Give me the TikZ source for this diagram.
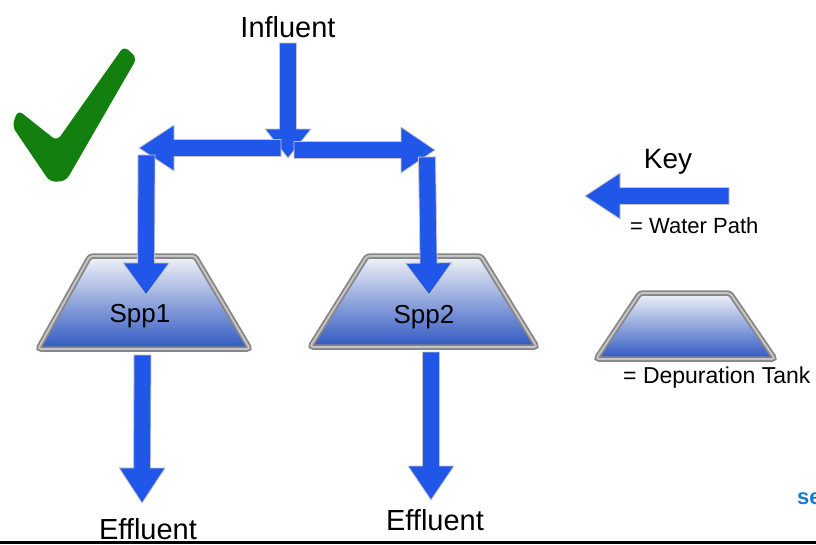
\documentclass[tikz,border=0pt]{standalone}
\usepackage{fontspec}
\setmainfont{Liberation Sans}
\usepackage{tikz}
\usetikzlibrary{calc}

\definecolor{waterblue}{HTML}{2157E8}
\definecolor{tickgreen}{HTML}{137F0E}
\definecolor{tanktop}{HTML}{F2F3F7}
\definecolor{tankmid}{HTML}{8FA2D6}
\definecolor{tankbot}{HTML}{2F57C2}
\definecolor{rimdark}{HTML}{858585}
\definecolor{rimlight}{HTML}{C4C4C4}
\definecolor{logoblue}{HTML}{1B78D2}

\tikzset{
  water/.style={fill=waterblue,draw=gray!45,line width=0.8pt,line join=miter},
  tankfill/.style={top color=tanktop,middle color=tankmid,bottom color=tankbot,rounded corners=3pt},
  tankrim/.style={draw=rimdark,line width=5.5pt,rounded corners=3pt},
  tankshine/.style={draw=rimlight,line width=2pt,rounded corners=3pt},
  lbl/.style={inner sep=0pt,anchor=base,font=\fontsize{29}{34}\selectfont},
  keylbl/.style={inner sep=0pt,anchor=base west},
}

\begin{document}
\begin{tikzpicture}[x=1pt,y=-1pt]
\useasboundingbox (0,0) rectangle (816,544);

% fat arrow: [head length]{from}{to}
\newcommand{\waterarrow}[3][33]{%
  \path ($(#3)!#1pt!(#2)$) coordinate (hb);
  \filldraw[water] ($(#2)!8.5pt!90:(#3)$) -- ($(hb)!8.5pt!90:(#3)$) -- ($(hb)!23pt!90:(#3)$)
    -- (#3) -- ($(hb)!23pt!-90:(#3)$) -- ($(hb)!8.5pt!-90:(#3)$) -- ($(#2)!8.5pt!-90:(#3)$) -- cycle;}
% tank: bottom left, bottom right, top right, top left
\newcommand{\deptank}[4]{%
  \shade[tankfill] #1 -- #2 -- #3 -- #4 -- cycle;
  \draw[tankrim] #1 -- #2 -- #3 -- #4 -- cycle;
  \draw[tankshine] #1 -- #2 -- #3 -- #4 -- cycle;}

% tick
\fill[tickgreen,rounded corners=6pt] (18,110) -- (57,141) -- (124,46) -- (137,58) -- (66,181) -- (50,182) -- (12,126) -- cycle;

\coordinate (intop) at (288,43);
\coordinate (split) at (288,158);
\coordinate (lstart) at (281,148);
\coordinate (lend) at (139,148);
\coordinate (rstart) at (294,150);
\coordinate (rend) at (435,150);
\coordinate (t1top) at (146.5,155);
\coordinate (t1in) at (146,295);
\coordinate (t2top) at (427,157);
\coordinate (t2in) at (429,295);
\coordinate (t1out) at (142.5,355);
\coordinate (eff1end) at (142,503);
\coordinate (t2out) at (431,352);
\coordinate (eff2end) at (431,500);
\coordinate (keytail) at (729,196);
\coordinate (keytip) at (585,196);

\deptank{(38,349)}{(250,349)}{(195,256)}{(90,256)}
\deptank{(310,347)}{(537,347)}{(481,256)}{(367,256)}
\deptank{(596,359)}{(775,359)}{(730,293)}{(640,293)}

\waterarrow[29]{intop}{split}
\waterarrow[35]{lstart}{lend}
\waterarrow[34]{rstart}{rend}
\waterarrow[32]{t1top}{t1in}
\waterarrow[32]{t2top}{t2in}
\waterarrow[35]{t1out}{eff1end}
\waterarrow[34]{t2out}{eff2end}
\waterarrow[35]{keytail}{keytip}

\node[lbl] (influent) at (288,37) {Influent};
\node[lbl,font=\fontsize{26}{30}\selectfont] (spp1) at (140,322) {Spp1};
\node[lbl,font=\fontsize{26}{30}\selectfont] (spp2) at (424,323) {Spp2};
\node[lbl] (eff1) at (148,539) {Effluent};
\node[lbl] (eff2) at (435,530) {Effluent};
\node[lbl,font=\fontsize{28}{33}\selectfont] (key) at (668,168) {Key};
\node[keylbl,font=\fontsize{22}{26}\selectfont] (waterpath) at (630,233) {= Water Path};
\node[keylbl,font=\fontsize{23}{27}\selectfont] (tanklbl) at (623,383) {= Depuration Tank};
\node[keylbl,font=\bfseries\fontsize{22}{26}\selectfont,text=logoblue] (logo) at (797,504) {se};

\draw[line width=3pt] (0,542.5) -- (816,542.5);
\end{tikzpicture}
\end{document}
